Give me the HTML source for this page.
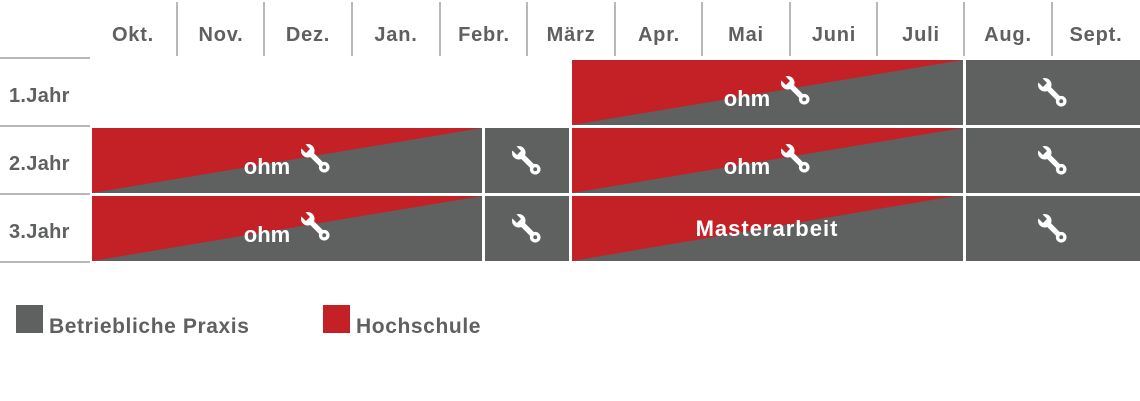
<!DOCTYPE html>
<html><head><meta charset="utf-8"><style>
html,body{margin:0;padding:0;background:#fff;width:1140px;height:401px;overflow:hidden}
svg{display:block}
text{font-family:"Liberation Sans",sans-serif;font-weight:bold}
</style></head><body>
<svg width="1140" height="401" viewBox="0 0 1140 401" xmlns="http://www.w3.org/2000/svg">
<defs>
<mask id="wm" maskUnits="userSpaceOnUse" x="0" y="0" width="32" height="32">
<rect x="0" y="0" width="32" height="32" fill="black"/>
<circle cx="8" cy="8" r="7" fill="white"/>
<line x1="8" y1="8" x2="25" y2="25" stroke="white" stroke-width="5.5"/>
<circle cx="25" cy="25" r="5.5" fill="white"/>
<rect x="-3" y="-6" width="6" height="12" fill="black" transform="translate(4 4) rotate(-45)"/>
<circle cx="25" cy="25" r="2" fill="black"/>
</mask>
<symbol id="w" viewBox="0 0 32 32"><rect width="32" height="32" fill="#fff" mask="url(#wm)"/></symbol>
</defs>
<g fill="#5f6060" font-size="20" letter-spacing="0.8" text-anchor="middle">
<text x="133" y="41">Okt.</text><text x="221" y="41">Nov.</text><text x="308" y="41">Dez.</text><text x="396" y="41">Jan.</text><text x="484" y="41">Febr.</text><text x="571" y="41">März</text><text x="659" y="41">Apr.</text><text x="746" y="41">Mai</text><text x="834" y="41">Juni</text><text x="921" y="41">Juli</text><text x="1008" y="41">Aug.</text><text x="1096" y="41">Sept.</text>
</g>
<g stroke="#a0a0a0" stroke-width="1.5">
<line x1="177" y1="2" x2="177" y2="56"/><line x1="264" y1="2" x2="264" y2="56"/><line x1="352" y1="2" x2="352" y2="56"/><line x1="440" y1="2" x2="440" y2="56"/><line x1="527" y1="2" x2="527" y2="56"/><line x1="615" y1="2" x2="615" y2="56"/><line x1="702" y1="2" x2="702" y2="56"/><line x1="790" y1="2" x2="790" y2="56"/><line x1="877" y1="2" x2="877" y2="56"/><line x1="964" y1="2" x2="964" y2="56"/><line x1="1052" y1="2" x2="1052" y2="56"/>
<line x1="0" y1="58" x2="90" y2="58"/><line x1="0" y1="126" x2="90" y2="126"/><line x1="0" y1="194" x2="90" y2="194"/><line x1="0" y1="262" x2="90" y2="262"/>
</g>
<g fill="#5f6060" font-size="20" letter-spacing="0.3">
<text x="9" y="102">1.Jahr</text><text x="9" y="170">2.Jahr</text><text x="9" y="238">3.Jahr</text>
</g>
<rect x="572" y="60" width="391" height="65" fill="#5f6060"/><polygon points="572,60 963,60 572,125" fill="#c42127"/>
<rect x="966" y="60" width="174" height="65" fill="#5f6060"/>
<rect x="92" y="128" width="390" height="65" fill="#5f6060"/><polygon points="92,128 482,128 92,193" fill="#c42127"/>
<rect x="485" y="128" width="84" height="65" fill="#5f6060"/>
<rect x="572" y="128" width="391" height="65" fill="#5f6060"/><polygon points="572,128 963,128 572,193" fill="#c42127"/>
<rect x="966" y="128" width="174" height="65" fill="#5f6060"/>
<rect x="92" y="196" width="390" height="65" fill="#5f6060"/><polygon points="92,196 482,196 92,261" fill="#c42127"/>
<rect x="485" y="196" width="84" height="65" fill="#5f6060"/>
<rect x="572" y="196" width="391" height="65" fill="#5f6060"/><polygon points="572,196 955,196 572,261" fill="#c42127"/>
<rect x="966" y="196" width="174" height="65" fill="#5f6060"/>
<g fill="#fff" font-size="22" text-anchor="middle">
<text x="267" y="174">ohm</text><text x="267" y="242">ohm</text><text x="747" y="106">ohm</text><text x="747" y="174">ohm</text>
<text x="767" y="236" letter-spacing="1">Masterarbeit</text>
</g>
<use href="#w" x="300" y="143" width="31" height="31"/>
<use href="#w" x="300" y="211" width="31" height="31"/>
<use href="#w" x="780" y="75" width="31" height="31"/>
<use href="#w" x="780" y="143" width="31" height="31"/>
<use href="#w" x="511" y="145" width="31" height="31"/>
<use href="#w" x="511" y="213" width="31" height="31"/>
<use href="#w" x="1037" y="77" width="31" height="31"/>
<use href="#w" x="1037" y="145" width="31" height="31"/>
<use href="#w" x="1037" y="213" width="31" height="31"/>
<rect x="16" y="305" width="27" height="28" fill="#5f6060"/>
<rect x="323" y="305" width="27" height="28" fill="#c42127"/>
<g fill="#5f6060" font-size="21" letter-spacing="0.6">
<text x="49" y="333">Betriebliche Praxis</text><text x="356" y="333">Hochschule</text>
</g>
</svg>
</body></html>
